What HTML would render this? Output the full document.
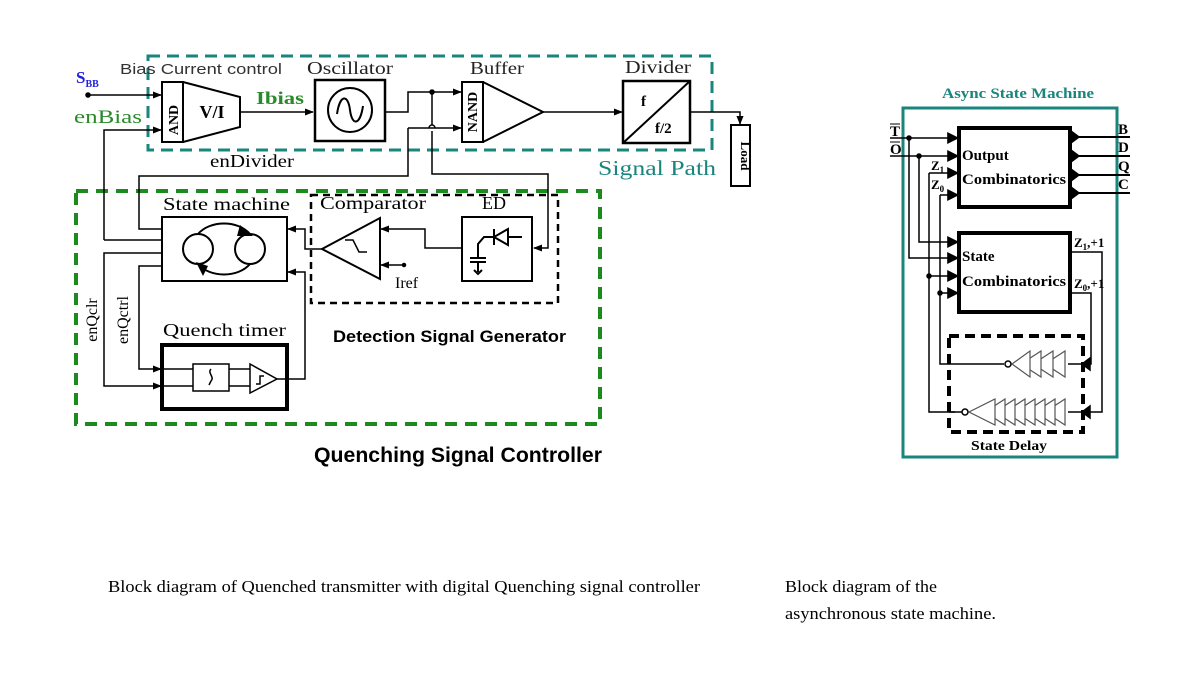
<!DOCTYPE html>
<html><head><meta charset="utf-8"><style>
html,body{margin:0;padding:0;background:#fff}
svg{display:block}
.s{font-family:"Liberation Serif",serif}
.a{font-family:"Liberation Sans",sans-serif}
</style></head><body>
<svg width="1179" height="679" viewBox="0 0 1179 679" xmlns="http://www.w3.org/2000/svg">
<defs>
<marker id="ar" viewBox="0 0 10 10" refX="9" refY="5" markerWidth="6" markerHeight="6" orient="auto"><path d="M0,1 L10,5 L0,9 z" fill="#000"/></marker>
<marker id="ab" viewBox="0 0 10 10" refX="9" refY="5" markerWidth="8" markerHeight="8" orient="auto"><path d="M0,0 L10,5 L0,10 z" fill="#000"/></marker>
</defs>
<rect width="1179" height="679" fill="#fff"/>

<rect x="148" y="56" width="564" height="94" fill="none" stroke="#19857d" stroke-width="3" stroke-dasharray="12,7"/>
<rect x="76" y="191" width="524" height="233" fill="none" stroke="#1d8a1d" stroke-width="4" stroke-dasharray="12,8"/>
<rect x="311" y="195" width="247" height="108" fill="none" stroke="#000" stroke-width="2.5" stroke-dasharray="7,5"/>

<g stroke="#000" stroke-width="1.5" fill="none">
<path d="M88,95 H161" marker-end="url(#ar)"/>
<circle cx="88" cy="95" r="2" fill="#000"/>
<path d="M104,240 V130 H161" marker-end="url(#ar)"/>
<path d="M104,240 H162"/>
<rect x="162" y="82" width="21" height="60" stroke-width="2"/>
<path d="M183,82 L240,97 V127 L183,142" stroke-width="2"/>
<path d="M240,112 H313" marker-end="url(#ar)"/>
<rect x="315" y="80" width="70" height="61" stroke-width="2.5"/>
<circle cx="350" cy="110" r="22" stroke-width="2"/>
<path d="M337,114 C340,94 348,94 350,110 C352,126 360,126 363,106" stroke-width="2"/>
<path d="M385,112 H408 V92 H461" marker-end="url(#ar)"/>
<circle cx="432" cy="92" r="2" fill="#000"/>
<path d="M432,92 V125 M432,131 V174 H548 V248 H534" marker-end="url(#ar)"/>
<path d="M429,128 a3,3 0 0 1 6,0"/>
<path d="M408,128 H461" marker-end="url(#ar)"/>
<path d="M408,128 V176 H139 V229 H162"/>
<rect x="462" y="82" width="21" height="60" stroke-width="2"/>
<path d="M483,82 L543,112 L483,142" stroke-width="2"/>
<path d="M543,112 H622" marker-end="url(#ar)"/>
<rect x="623" y="81" width="67" height="62" stroke-width="2.5"/>
<path d="M623,143 L690,81" stroke-width="2"/>
<path d="M690,112 H740 V124" marker-end="url(#ar)"/>
<rect x="731" y="125" width="19" height="61" stroke-width="2"/>

<rect x="162" y="217" width="125" height="64" stroke-width="2"/>
<circle cx="198" cy="249" r="15" stroke-width="2"/>
<circle cx="250" cy="249" r="15" stroke-width="2"/>
<path d="M198,234 C210,220 238,220 250,234" stroke-width="2"/>
<path d="M250,264 C238,278 210,278 198,264" stroke-width="2"/>
<path d="M240,225 L253,236 L237,236 Z M208,266 L196,262 L203,276 Z" fill="#000" stroke="none"/>
<path d="M162,253 H104 V386 H161" marker-end="url(#ar)"/>
<path d="M162,266 H139 V369 H161" marker-end="url(#ar)"/>
<rect x="162" y="345" width="125" height="64" stroke-width="4"/>
<path d="M162,369 H193 M229,369 H250 M162,386 H193 M229,386 H250"/>
<rect x="193" y="364" width="36" height="27" fill="#fff"/>
<path d="M211,369 c-4,4 4,8 0,12 m0,0 l-2,4"/>
<path d="M250,364 L277,379 L250,393 Z" fill="#fff"/>
<path d="M256,384 h4 v-8 h4"/>
<path d="M277,379 H305 V272 H288" marker-end="url(#ar)"/>
<path d="M322,249 L380,218 V279 Z" stroke-width="2"/>
<path d="M345,240 h8 l6,12 h8"/>
<path d="M322,249 H305 V229 H288" marker-end="url(#ar)"/>
<path d="M462,248 H425 V229 H381" marker-end="url(#ar)"/>
<path d="M404,265 H381" marker-end="url(#ar)"/>
<circle cx="404" cy="265" r="1.5" fill="#000"/>
<rect x="462" y="217" width="70" height="64" stroke-width="2"/>
<path d="M494,237 L508,229 V245 Z M494,229 V245 M508,237 H522" stroke-width="2"/>
<path d="M494,237 H484 L478,244 V258 M470,258 h16 M470,262 h16 M478,262 V272" stroke-width="2"/>
<path d="M474,270 l4,4 l4,-4" stroke-width="2"/>
</g>

<g lengthAdjust="spacingAndGlyphs">
<text x="76" y="83" class="s" font-size="17" fill="#2020e0" font-weight="bold">S<tspan font-size="10" dy="4">BB</tspan></text>
<text x="74" y="123" class="s" font-size="19" fill="#2a8a2a" textLength="68" lengthAdjust="spacingAndGlyphs">enBias</text>
<text x="120" y="74" class="a" font-size="15" fill="#333" textLength="162" lengthAdjust="spacingAndGlyphs">Bias Current control</text>
<text x="170" y="112" class="s" font-size="14" font-weight="bold" transform="rotate(-90 178 112)" text-anchor="middle">AND</text>
<text x="212" y="118" class="s" font-size="18" font-weight="bold" text-anchor="middle">V/I</text>
<text x="256" y="104" class="s" font-size="18" fill="#2a8a2a" font-weight="bold" textLength="48" lengthAdjust="spacingAndGlyphs">Ibias</text>
<text x="307" y="74" class="s" font-size="18" fill="#222" textLength="86" lengthAdjust="spacingAndGlyphs">Oscillator</text>
<text x="470" y="74" class="s" font-size="18" fill="#222" textLength="54" lengthAdjust="spacingAndGlyphs">Buffer</text>
<text x="477" y="112" class="s" font-size="14" font-weight="bold" transform="rotate(-90 477 112)" text-anchor="middle">NAND</text>
<text x="625" y="73" class="s" font-size="18" fill="#222" textLength="66" lengthAdjust="spacingAndGlyphs">Divider</text>
<text x="641" y="106" class="s" font-size="15" font-weight="bold">f</text>
<text x="655" y="133" class="s" font-size="15" font-weight="bold">f/2</text>
<text x="741" y="156" class="s" font-size="13" font-weight="bold" transform="rotate(90 741 156)" text-anchor="middle">Load</text>
<text x="598" y="175" class="s" font-size="21" fill="#19857d" textLength="118" lengthAdjust="spacingAndGlyphs">Signal Path</text>
<text x="210" y="167" class="s" font-size="18" textLength="84" lengthAdjust="spacingAndGlyphs">enDivider</text>

<text x="163" y="210" class="s" font-size="18" textLength="127" lengthAdjust="spacingAndGlyphs">State machine</text>
<text x="320" y="209" class="s" font-size="18" textLength="106" lengthAdjust="spacingAndGlyphs">Comparator</text>
<text x="482" y="209" class="s" font-size="18">ED</text>
<text x="395" y="288" class="s" font-size="16">Iref</text>
<text x="163" y="336" class="s" font-size="18" textLength="123" lengthAdjust="spacingAndGlyphs">Quench timer</text>
<text x="333" y="342" class="a" font-size="17" font-weight="bold" textLength="233" lengthAdjust="spacingAndGlyphs">Detection Signal Generator</text>
<text x="314" y="462" class="a" font-size="21" font-weight="bold" textLength="288" lengthAdjust="spacingAndGlyphs">Quenching Signal Controller</text>
<text x="97" y="320" class="s" font-size="16" transform="rotate(-90 97 320)" text-anchor="middle">enQclr</text>
<text x="128" y="320" class="s" font-size="16" transform="rotate(-90 128 320)" text-anchor="middle">enQctrl</text>
</g>

<text x="1018" y="98" class="s" font-size="15" font-weight="bold" fill="#19857d" text-anchor="middle" textLength="152" lengthAdjust="spacingAndGlyphs">Async State Machine</text>
<rect x="903" y="108" width="214" height="349" fill="none" stroke="#19857d" stroke-width="3"/>
<g stroke="#000" stroke-width="1.5" fill="none">
<rect x="959" y="128" width="111" height="79" stroke-width="4"/>
<rect x="959" y="233" width="111" height="79" stroke-width="4"/>
<path d="M890,138 H958" marker-end="url(#ab)"/>
<path d="M890,156 H958" marker-end="url(#ab)"/>
<path d="M929,173 H958" marker-end="url(#ab)"/>
<path d="M940,195 H958" marker-end="url(#ab)"/>
<path d="M909,138 V258 H958" marker-end="url(#ab)"/>
<path d="M919,156 V242 H958" marker-end="url(#ab)"/>
<path d="M929,173 V412 H955" />
<path d="M940,195 V364 H1004"/>
<path d="M929,276 H958" marker-end="url(#ab)"/>
<path d="M940,293 H958" marker-end="url(#ab)"/>
<circle cx="909" cy="138" r="2" fill="#000"/>
<circle cx="919" cy="156" r="2" fill="#000"/>
<circle cx="929" cy="276" r="2" fill="#000"/>
<circle cx="940" cy="293" r="2" fill="#000"/>
<path d="M1070,137 H1130 M1070,156 H1130 M1070,175 H1130 M1070,193 H1130" stroke-width="2"/>
<path d="M1071,131 l8,6 l-8,6z M1071,150 l8,6 l-8,6z M1071,169 l8,6 l-8,6z M1071,187 l8,6 l-8,6z" fill="#000"/>
<path d="M1070,252 H1102 V412 H1068 M1070,293 H1091 V364 H1068"/>
<path d="M1090,406 l-8,6 l8,6z M1090,358 l-8,6 l8,6z" fill="#000"/>
<rect x="949" y="336" width="134" height="96" stroke-width="4" stroke-dasharray="10,6"/>
<g stroke="#555" stroke-width="1.2" fill="#fff">
<path d="M1065,351 V377 L1045,364 Z"/><path d="M1053,351 V377 L1033,364 Z"/><path d="M1041,351 V377 L1021,364 Z"/><path d="M1030,351 V377 L1012,364 Z"/>
<path d="M1065,399 V425 L1045,412 Z"/><path d="M1055,399 V425 L1035,412 Z"/><path d="M1045,399 V425 L1025,412 Z"/><path d="M1035,399 V425 L1015,412 Z"/><path d="M1025,399 V425 L1005,412 Z"/><path d="M1015,399 V425 L995,412 Z"/><path d="M1005,399 V425 L985,412 Z"/><path d="M995,399 V425 L969,412 Z"/>
</g>
<circle cx="1008" cy="364" r="3" fill="#fff" stroke-width="1.5"/>
<circle cx="965" cy="412" r="3" fill="#fff" stroke-width="1.5"/>
<path d="M949,412 H962"/>
</g>
<g class="s" font-size="15" font-weight="bold">
<text x="890" y="136">T</text><text x="890" y="154">O</text>
<path d="M890,124 h10 M890,142 h10" stroke="#000"/>
<text x="931" y="170" font-size="13">Z<tspan font-size="9" dy="3">1</tspan></text>
<text x="931" y="189" font-size="13">Z<tspan font-size="9" dy="3">0</tspan></text>
<text x="1118" y="134">B</text><text x="1118" y="152">D</text><text x="1118" y="171">Q</text><text x="1118" y="189">C</text>
<text x="962" y="160" font-size="15">Output</text>
<text x="962" y="184" font-size="15" textLength="104" lengthAdjust="spacingAndGlyphs">Combinatorics</text>
<text x="962" y="261" font-size="15">State</text>
<text x="962" y="286" font-size="15" textLength="104" lengthAdjust="spacingAndGlyphs">Combinatorics</text>
<text x="1074" y="247" font-size="13">Z<tspan font-size="9" dy="3">1</tspan><tspan dy="-3">,+1</tspan></text>
<text x="1074" y="288" font-size="13">Z<tspan font-size="9" dy="3">0</tspan><tspan dy="-3">,+1</tspan></text>
<text x="1009" y="450" font-size="14" text-anchor="middle" textLength="76" lengthAdjust="spacingAndGlyphs">State Delay</text>
</g>

<text x="108" y="592" class="s" font-size="17" textLength="592" lengthAdjust="spacingAndGlyphs">Block diagram of Quenched transmitter with digital Quenching signal controller</text>
<text x="785" y="592" class="s" font-size="17" textLength="152" lengthAdjust="spacingAndGlyphs">Block diagram of the</text>
<text x="785" y="619" class="s" font-size="17" textLength="211" lengthAdjust="spacingAndGlyphs">asynchronous state machine.</text>
</svg>
</body></html>
